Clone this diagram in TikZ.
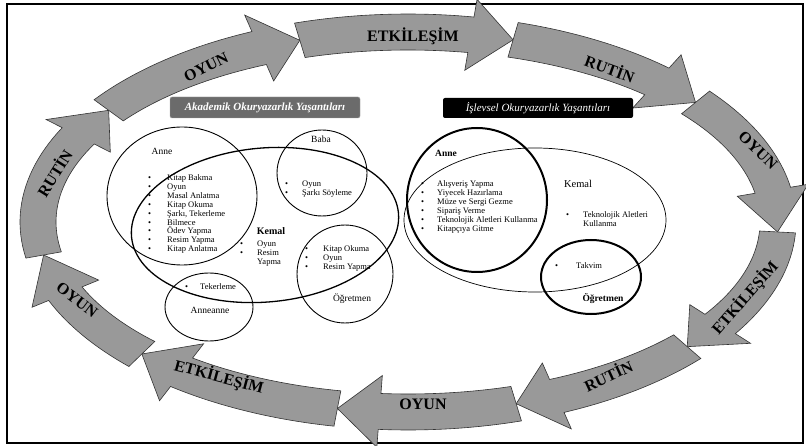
\documentclass[tikz,border=0pt]{standalone}
\usepackage{fontspec}
\setmainfont{Liberation Serif}
\usepackage{tikz}

% bullet item with a fixed gap before the text
\newcommand{\itm}[2][16pt]{\makebox[#1][l]{\textbullet}#2}

% one grey block arrow of the cycle, from angle #1 to its tip at angle #2
\newcommand{\cyclearrow}[2]{%
  \pgfmathsetmacro\hd{0.42/sqrt((3.7*sin(#2))^2+(1.9*cos(#2))^2)*57.2958}%
  \pgfmathsetmacro\hb{#2+\hd}%
  \filldraw[arrowfill] plot[domain=#1:\hb, samples=25] ({408+388*cos(\x)},{222-208*sin(\x)})
    -- ({408+406*cos(\hb)},{222-226*sin(\hb)})
    -- ({408+370*cos(#2)},{222-190*sin(#2)})
    -- ({408+334*cos(\hb)},{222-154*sin(\hb)})
    -- plot[domain=\hb:#1, samples=25] ({408+352*cos(\x)},{222-172*sin(\x)}) -- cycle;
}

\begin{document}
\begin{tikzpicture}[x=1pt, y=-1pt,
    arrowfill/.style={fill=black!40, draw=black!80, line width=0.6pt},
    lbl/.style={font=\fontsize{16}{16}\selectfont\bfseries, inner sep=0pt},
    ring/.style={draw=black, line width=0.9pt},
    thickring/.style={draw=black, line width=2pt},
    listtxt/.style={font=\fontsize{8.5}{8.9}\selectfont, align=left, anchor=north west, inner sep=0pt},
    who/.style={font=\fontsize{9.5}{10}\selectfont, inner sep=0pt},
    titlebox/.style={rounded corners=2pt, text=white, minimum width=190pt, inner sep=0pt,
      font=\fontsize{11}{11}\selectfont\itshape}]
  \useasboundingbox (0,0) rectangle (806,446);
  \fill[white] (0,0) rectangle (806,446);
  \draw[line width=1.5pt] (7,4) rectangle (803,443);

  % cycle of arrows
  \cyclearrow{144}{107}
  \cyclearrow{107}{73.5}
  \cyclearrow{73.5}{39}
  \cyclearrow{39}{-3}
  \cyclearrow{-3}{-41}
  \cyclearrow{-41}{-73}
  \cyclearrow{-73}{-101}
  \cyclearrow{-101}{-136}
  \cyclearrow{-136}{-170}
  \cyclearrow{-170}{-216}

  \node[lbl, rotate=26] (oyunA) at (206,67) {OYUN};
  \node[lbl] (etkA) at (413,36) {ETKİLEŞİM};
  \node[lbl, rotate=-20] (rutinA) at (610,68) {RUTİN};
  \node[lbl, rotate=-44] (oyunB) at (758,150) {OYUN};
  \node[lbl, rotate=49] (etkB) at (745,298) {ETKİLEŞİM};
  \node[lbl, rotate=25] (rutinB) at (608,375) {RUTİN};
  \node[lbl] (oyunC) at (423,404) {OYUN};
  \node[lbl, rotate=-15] (etkC) at (219,377) {ETKİLEŞİM};
  \node[lbl, rotate=-37] (oyunD) at (77,300) {OYUN};
  \node[lbl, rotate=58] (rutinC) at (54,173) {RUTİN};

  % titles
  \node[titlebox, fill=black!58, draw=black!35, minimum height=21pt, font=\fontsize{11}{11}\selectfont\itshape\bfseries]
    (akTitle) at (265,107.5) {Akademik Okuryazarlık Yaşantıları};
  \node[titlebox, fill=black, minimum height=20pt] (isTitle) at (538,108) {İşlevsel Okuryazarlık Yaşantıları};

  % academic sets
  \draw[ring] (182,196) ellipse [x radius=75, y radius=69];
  \draw[ring, line width=1.3pt, rotate around={5:(265,225)}] (265,225) ellipse [x radius=134, y radius=77];
  \draw[ring] (322,173) ellipse [x radius=45, y radius=43];
  \draw[ring] (345,274) ellipse [x radius=48, y radius=49];
  \draw[ring] (209,307) ellipse [x radius=44, y radius=34];

  \node[who] (anneL) at (162,151) {Anne};
  \node[listtxt] (anneLlist) at (148,174.5) {\itm[19pt]{Kitap Bakma}\\ \itm[19pt]{Oyun}\\ \itm[19pt]{Masal Anlatma}\\
    \itm[19pt]{Kitap Okuma}\\ \itm[19pt]{Şarkı, Tekerleme}\\ \itm[19pt]{Bilmece}\\ \itm[19pt]{Ödev Yapma}\\
    \itm[19pt]{Resim Yapma}\\ \itm[19pt]{Kitap Anlatma}};
  \node[who] (babaL) at (321,139) {Baba};
  \node[listtxt] (babaLlist) at (285,180.5) {\itm[17pt]{Oyun}\\ \itm[17pt]{Şarkı Söyleme}};
  \node[who, font=\fontsize{10}{10}\selectfont\bfseries] (kemalL) at (271,231) {Kemal};
  \node[listtxt] (kemalLlist) at (240,240.5) {\itm[17pt]{Oyun}\\ \itm[17pt]{Resim}\\ \hspace*{17pt}Yapma};
  \node[listtxt] (ogrLlist) at (305,245.5) {\itm[18pt]{Kitap Okuma}\\ \itm[18pt]{Oyun}\\ \itm[18pt]{Resim Yapma}};
  \node[who] (ogrL) at (352,299) {Öğretmen};
  \node[listtxt] (annLlist) at (185,283.5) {\itm[15pt]{Tekerleme}};
  \node[who] (anneanne) at (210,310) {Anneanne};

  % functional sets
  \draw[ring, line width=0.7pt] (535,220) ellipse [x radius=131, y radius=72];
  \draw[thickring] (477,200) ellipse [x radius=70, y radius=72];
  \draw[thickring] (591,277) ellipse [x radius=50, y radius=37];

  \node[who, font=\fontsize{9.5}{10}\selectfont\bfseries] (anneR) at (446,153) {Anne};
  \node[listtxt] (anneRlist) at (421,180.5) {\itm{Alışveriş Yapma}\\ \itm{Yiyecek Hazırlama}\\ \itm{Müze ve Sergi Gezme}\\
    \itm{Sipariş Verme}\\ \itm{Teknolojik Aletleri Kullanma}\\ \itm{Kitapçıya Gitme}};
  \node[who, font=\fontsize{10.5}{11}\selectfont] (kemalR) at (578,184) {Kemal};
  \node[listtxt] (kemalRlist) at (566,211.5) {\itm[17pt]{Teknolojik Aletleri}\\ \hspace*{17pt}Kullanma};
  \node[listtxt] (ogrRlist) at (555,262.5) {\itm[21pt]{Takvim}};
  \node[who, font=\fontsize{9.5}{10}\selectfont\bfseries] (ogrR) at (603,299) {Öğretmen};
\end{tikzpicture}
\end{document}
